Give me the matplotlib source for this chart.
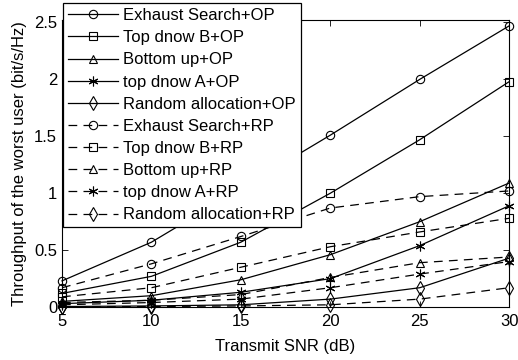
import numpy as np
import matplotlib.pyplot as plt

plt.rcParams['font.family'] = ['Liberation Sans', 'DejaVu Sans']

snr = [5, 10, 15, 20, 25, 30]

exhaust_op = [0.23, 0.57, 1.04, 1.51, 2.00, 2.47]
topB_op = [0.12, 0.27, 0.57, 1.00, 1.47, 1.98]
bottom_op = [0.05, 0.10, 0.24, 0.46, 0.75, 1.09]
topA_op = [0.03, 0.06, 0.13, 0.25, 0.54, 0.89]
random_op = [0.005, 0.01, 0.02, 0.07, 0.17, 0.43]

exhaust_rp = [0.17, 0.38, 0.62, 0.87, 0.97, 1.02]
topB_rp = [0.09, 0.17, 0.35, 0.53, 0.66, 0.78]
bottom_rp = [0.04, 0.06, 0.11, 0.26, 0.39, 0.44]
topA_rp = [0.02, 0.04, 0.07, 0.17, 0.29, 0.40]
random_rp = [0.0, 0.005, 0.01, 0.02, 0.07, 0.17]

labels = ['Exhaust Search+OP', 'Top dnow B+OP', 'Bottom up+OP', 'top dnow A+OP',
          'Random allocation+OP', 'Exhaust Search+RP', 'Top dnow B+RP',
          'Bottom up+RP', 'top dnow A+RP', 'Random allocation+RP']
series = [exhaust_op, topB_op, bottom_op, topA_op, random_op,
          exhaust_rp, topB_rp, bottom_rp, topA_rp, random_rp]
# matlab style asterisk = 6 spoke star
markers = ['o', 's', '^', (6, 2, 0), 'd'] * 2

fs = 12

fig = plt.figure(figsize=(5.18, 3.6), dpi=100)
ax = fig.add_axes([0.1197, 0.147, 0.8633, 0.797])

for i, (y, lab) in enumerate(zip(series, labels)):
    ms = 7 if i % 5 in (3, 4) else 6
    line, = ax.plot(snr, y, color='k', lw=0.9, marker=markers[i], ms=ms,
                    mfc='none', mec='k', mew=0.8, label=lab, clip_on=False)
    if i >= 5:
        line.set_dashes((7, 5))

ax.set_xlim(5, 30)
ax.set_ylim(0, 2.52)
ax.set_xticks([5, 10, 15, 20, 25, 30])
ax.set_yticks([0, 0.5, 1, 1.5, 2, 2.5])
ax.set_yticklabels(['0', '0.5', '1', '1.5', '2', '2.5'])
ax.tick_params(direction='in', top=True, right=True, labelsize=fs, length=4, width=0.6)
ax.tick_params(axis='x', pad=5)
for s in ax.spines.values():
    s.set_linewidth(0.8)
ax.set_xlabel('Transmit SNR (dB)', fontsize=fs, labelpad=7)
ax.set_ylabel('Throughput of the worst user (bit/s/Hz)', fontsize=fs, labelpad=5)

leg = ax.legend(loc='upper left', bbox_to_anchor=(63 / 518, 357 / 360),
                bbox_transform=fig.transFigure, fontsize=fs, handlelength=3,
                labelspacing=0.43, borderaxespad=0, fancybox=False,
                edgecolor='k', framealpha=1, handletextpad=0.3, borderpad=0.3)
leg.get_frame().set_linewidth(0.9)
leg.set_zorder(5)

fig.savefig('out.png', dpi=100)
